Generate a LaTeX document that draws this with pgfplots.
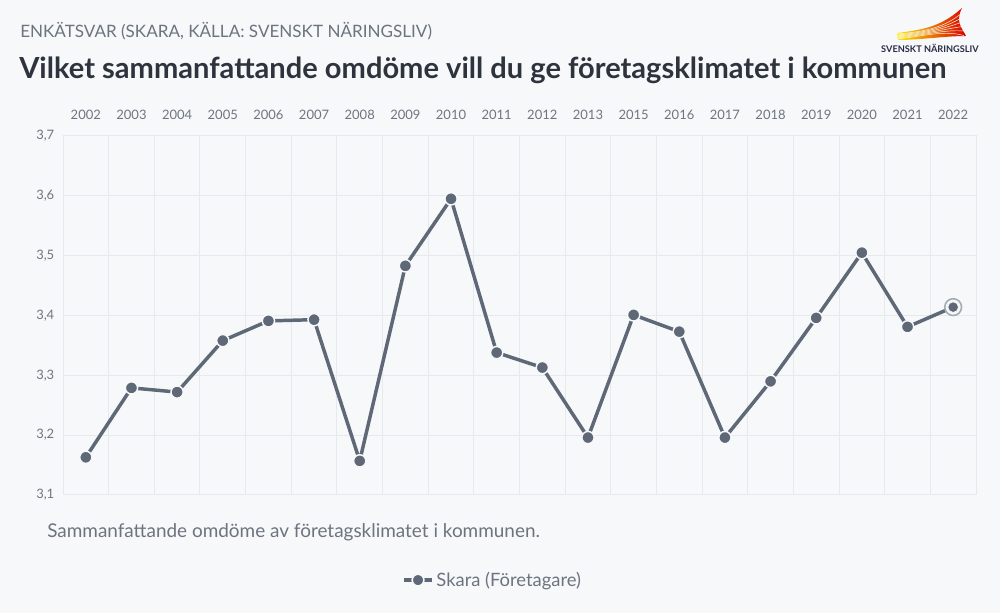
\documentclass[border=0pt]{standalone}
\usepackage{fontspec}
\setmainfont{Lato}
\usepackage{pgfplots}
\pgfplotsset{compat=1.18}
\definecolor{bg}{RGB}{247,248,250}
\definecolor{ln}{RGB}{94,104,118}
\definecolor{grd}{RGB}{230,233,238}
\definecolor{ttl}{RGB}{46,52,62}
\definecolor{sub}{RGB}{108,116,128}
\definecolor{tickc}{RGB}{110,117,128}
\definecolor{logotxt}{RGB}{40,44,70}
\begin{document}
\begin{tikzpicture}
\useasboundingbox (0,0) rectangle (750pt,459.75pt);
\fill[bg] (0,0) rectangle (750pt,459.75pt);
\begin{scope}[yshift=459.75pt,x=0.75pt,y=-0.75pt]
\node[anchor=west,text=sub,font=\fontsize{12.8}{15}\selectfont,inner sep=0] at (20,31) {ENKÄTSVAR (SKARA, KÄLLA: SVENSKT NÄRINGSLIV)};
\node[anchor=west,text=ttl,font=\fontsize{21.8}{24}\selectfont\bfseries,inner sep=0] at (19,70) {Vilket sammanfattande omdöme vill du ge företagsklimatet i kommunen};
\node[anchor=west,text=sub,font=\fontsize{14.2}{16}\selectfont,inner sep=0] at (47,532) {Sammanfattande omdöme av företagsklimatet i kommunen.};
% logo
\shade[left color=yellow!85!orange, middle color=orange, right color=red!85!black]
  (897,33) .. controls (920,30) and (940,28) .. (962,8)
  .. controls (955,22) and (962,28) .. (966,36)
  .. controls (945,36) and (920,40) .. (898,40) -- cycle;
\foreach \i in {1,...,6}{
  \draw[bg, line width=0.35pt] (897,33+\i) .. controls (925,31+\i*0.8) and (945,27+\i*0.5) .. (962+\i*0.3,8+\i*4.6);
}
\node[anchor=center,text=logotxt,font=\fontsize{6.9}{7.5}\selectfont\bfseries,inner sep=0] at (930,48) {SVENSKT NÄRINGSLIV};
\end{scope}
\begin{axis}[
  at={(47.25pt,88.5pt)}, anchor=south west, scale only axis,
  width=684.75pt, height=269.25pt,
  xmin=-0.5, xmax=19.5, ymin=3.1, ymax=3.7,
  xtick={0,...,19},
  xticklabels={2002,2003,2004,2005,2006,2007,2008,2009,2010,2011,2012,2013,2015,2016,2017,2018,2019,2020,2021,2022},
  xticklabel pos=right,
  minor xtick={-0.5,0.5,...,19.5},
  xminorgrids, ymajorgrids,
  ytick={3.1,3.2,3.3,3.4,3.5,3.6,3.7},
  grid style={grd, line width=0.75pt},
  minor grid style={grd, line width=0.75pt},
  axis line style={grd, line width=0.75pt},
  major tick length=0pt, minor tick length=0pt,
  tick label style={text=tickc, font=\fontsize{9.75}{11}\selectfont},
  xticklabel style={yshift=9pt},
  yticklabel style={xshift=-3pt,/pgf/number format/.cd, fixed, fixed zerofill, precision=1, use comma},
  /pgf/number format/assume math mode=true,
  legend style={at={(0.471,-0.237)}, anchor=center, draw=none, fill=none, font=\fontsize{13.8}{16}\selectfont, text=sub},
  legend image code/.code={
    \draw[ln, line width=2.6pt] (0pt,0pt) -- (21pt,0pt);
    \draw[bg, fill=ln, line width=1.2pt] (10.5pt,0pt) circle (4.4pt);
  },
]
\addplot[ln, line width=2.6pt, mark=*, mark size=4.6pt, mark options={fill=ln, draw=bg, line width=1.1pt}] coordinates {
(0,3.163) (1,3.279) (2,3.272) (3,3.358) (4,3.391) (5,3.393) (6,3.157) (7,3.483) (8,3.595) (9,3.338)
(10,3.313) (11,3.196) (12,3.401) (13,3.373) (14,3.196) (15,3.290) (16,3.396) (17,3.505) (18,3.381) (19,3.414)};
\addlegendentry{Skara (Företagare)}
\addplot[forget plot, only marks, mark=*, mark size=6.3pt, mark options={fill=bg, draw=ln!55, line width=1.2pt}] coordinates {(19,3.414)};
\addplot[forget plot, only marks, mark=*, mark size=4pt, mark options={fill=ln, draw=bg, line width=0.6pt}] coordinates {(19,3.414)};
\end{axis}
\end{tikzpicture}
\end{document}
